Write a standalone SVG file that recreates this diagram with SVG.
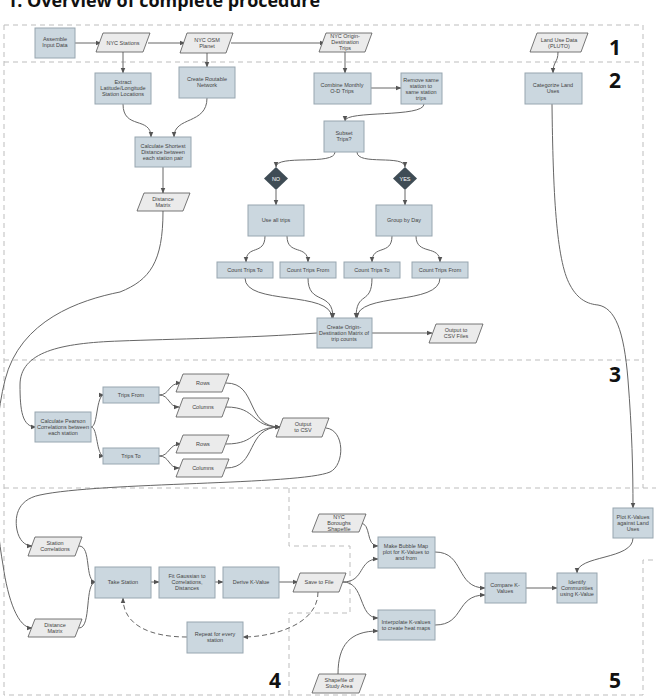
<svg xmlns="http://www.w3.org/2000/svg" width="656" height="698" viewBox="0 0 656 698">
<style>
.bx{fill:#cbd7df;stroke:#97a6b0;stroke-width:1}
.pg{fill:#ebebeb;stroke:#555;stroke-width:0.8}
.dm{fill:#3f4c55}
.t{font-family:"Liberation Sans",Arial,sans-serif;font-size:5.5px;fill:#444;text-anchor:middle}
.tw{font-family:"Liberation Sans",Arial,sans-serif;font-size:5.5px;fill:#fff;text-anchor:middle}
.sec{fill:none;stroke:#bdbdbd;stroke-width:1;stroke-dasharray:5 4}
.num{font-family:"Open Sans","DejaVu Sans",sans-serif;font-weight:bold;font-size:21px;fill:#111}
.c{fill:none;stroke:#666;stroke-width:1;marker-end:url(#ah)}
.cd{fill:none;stroke:#666;stroke-width:1;stroke-dasharray:5 3;marker-end:url(#ah)}
</style>
<defs>
<marker id="ah" viewBox="0 0 10 10" refX="9" refY="5" markerWidth="6" markerHeight="6" orient="auto" markerUnits="userSpaceOnUse"><path d="M0,1 L10,5 L0,9 z" fill="#555"/></marker>
</defs>
<rect width="656" height="698" fill="#fff"/>
<text x="7" y="7" font-family="'Open Sans','DejaVu Sans',sans-serif" font-weight="bold" font-size="18" fill="#111" textLength="313" lengthAdjust="spacingAndGlyphs">1. Overview of complete procedure</text>

<g id="sections">
<path class="sec" d="M4,25 H643 V488"/>
<path class="sec" d="M4,25 V695 H643 V560 H656"/>
<path class="sec" d="M4,62 H643"/>
<path class="sec" d="M4,360 H643"/>
<path class="sec" d="M4,488 H656"/>
<path class="sec" d="M289,488 V546 H350 V613 H289 V695"/>
<text class="num" x="609" y="55">1</text>
<text class="num" x="609" y="88">2</text>
<text class="num" x="609" y="382">3</text>
<text class="num" x="269" y="688">4</text>
<text class="num" x="609" y="688">5</text>
</g>

<g id="connectors">
<path class="c" d="M75,43 L101,43"/>
<path class="c" d="M148,43 L185,43"/>
<path class="c" d="M231,43 L325,43"/>
<path class="c" d="M123,52 L123,73"/>
<path class="c" d="M207,53 L207,67"/>
<path class="c" d="M345,52 L345,73"/>
<path class="c" d="M558,52 C558,63 553,61 553,73"/>
<path class="c" d="M123,104 C123,130 151,116 151,137"/>
<path class="c" d="M207,98 C207,125 174,116 174,137"/>
<path class="c" d="M163,167 L163,193"/>
<path class="c" d="M371,88 L401,88"/>
<path class="c" d="M424,104 C424,118 345,110 345,121"/>
<path class="c" d="M335,152 C335,166 276,154 276,167"/>
<path class="c" d="M357,152 C357,166 405,154 405,167"/>
<path class="c" d="M276,190 L276,205"/>
<path class="c" d="M405,190 L405,205"/>
<path class="c" d="M265,236 C265,256 246,244 246,262"/>
<path class="c" d="M287,236 C287,256 308,244 308,262"/>
<path class="c" d="M392,236 C392,256 372,244 372,262"/>
<path class="c" d="M416,236 C416,256 440,244 440,262"/>
<path class="c" d="M245,278 C245,306 332,290 332,318"/>
<path class="c" d="M308,278 C308,306 333,290 333,318"/>
<path class="c" d="M372,278 C372,306 356,290 356,318"/>
<path class="c" d="M440,278 C440,306 357,292 357,318"/>
<path class="c" d="M372,333 L432,333"/>
<path class="c" d="M317,333 C250,338 170,339 120,341 C60,343 20,352 20,385 C20,410 22,427 36,427"/>
<path class="c" d="M163,211 C163,262 150,280 120,292 C80,300 20,320 5,380 C-10,440 -5,520 3,565 C8,600 18,628 32,628"/>
<path class="c" d="M91,427 C98,427 96,395 104,395"/>
<path class="c" d="M91,427 C98,427 96,456 104,456"/>
<path class="c" d="M159,395 C170,395 168,383 181,383"/>
<path class="c" d="M159,395 C170,395 168,407 179,407"/>
<path class="c" d="M159,456 C170,456 168,444 181,444"/>
<path class="c" d="M159,456 C170,456 168,468 179,468"/>
<path class="c" d="M226,383 C258,383 245,427 280,427"/>
<path class="c" d="M226,407 C258,407 250,427 280,427"/>
<path class="c" d="M226,444 C258,444 250,427 280,427"/>
<path class="c" d="M226,468 C258,468 245,427 280,427"/>
<path class="c" d="M326,428 C345,430 345,465 330,472 C300,485 100,482 40,495 C15,500 15,520 17,530 C19,540 25,546 32,546"/>
<path class="c" d="M79,546 C92,546 84,582 96,582"/>
<path class="c" d="M79,628 C92,628 84,582 96,582"/>
<path class="c" d="M151,582 L159,582"/>
<path class="c" d="M215,582 L223,582"/>
<path class="c" d="M279,582 L298,582"/>
<path class="cd" d="M318,592 C318,625 272,637 243,637"/>
<path class="cd" d="M187,637 C150,637 123,625 123,598"/>
<path class="c" d="M360,523 C372,523 365,546 378,546"/>
<path class="c" d="M343,582 C365,582 358,559 378,559"/>
<path class="c" d="M343,582 C365,582 358,618 378,618"/>
<path class="c" d="M338,674 C338,645 350,631 378,631"/>
<path class="c" d="M435,552 C465,552 455,588 485,588"/>
<path class="c" d="M435,625 C465,625 455,595 485,595"/>
<path class="c" d="M526,588 L557,588"/>
<path class="c" d="M633,538 C633,560 577,555 577,573"/>
<path class="c" d="M552,104 C553,190 556,260 570,285 C578,300 588,304 598,305 C615,308 624,330 628,380 C632,430 633,470 633,508"/>
</g>

<g id="assemble"><rect class="bx" x="35" y="28" width="40" height="30"/><text class="t" x="55" y="41">Assemble</text><text class="t" x="55" y="47">Input Data</text></g>
<g id="nyc-stations"><polygon class="pg" points="103,33 150,33 143,52 96,52"/><text class="t" x="123" y="45">NYC Stations</text></g>
<g id="nyc-osm"><polygon class="pg" points="187,33 233,33 226,53 180,53"/><text class="t" x="207" y="42">NYC OSM</text><text class="t" x="207" y="48">Planet</text></g>
<g id="nyc-od"><polygon class="pg" points="326,33 372,33 365,52 319,52"/><text class="t" x="345" y="38">NYC Origin-</text><text class="t" x="345" y="44">Destination</text><text class="t" x="345" y="50">Trips</text></g>
<g id="land-use"><polygon class="pg" points="537,33 588,33 581,52 530,52"/><text class="t" x="559" y="42">Land Use Data</text><text class="t" x="559" y="48">(PLUTO)</text></g>

<g id="extract"><rect class="bx" x="95" y="73" width="56" height="31"/><text class="t" x="123" y="84">Extract</text><text class="t" x="123" y="90">Latitude/Longitude</text><text class="t" x="123" y="96">Station Locations</text></g>
<g id="routable"><rect class="bx" x="179" y="67" width="56" height="31"/><text class="t" x="207" y="81">Create Routable</text><text class="t" x="207" y="87">Network</text></g>
<g id="shortest"><rect class="bx" x="135" y="137" width="56" height="30"/><text class="t" x="163" y="148">Calculate Shortest</text><text class="t" x="163" y="154">Distance between</text><text class="t" x="163" y="160">each station pair</text></g>
<g id="dist-matrix"><polygon class="pg" points="144,193 190,193 183,211 137,211"/><text class="t" x="163" y="201">Distance</text><text class="t" x="163" y="207">Matrix</text></g>
<g id="combine"><rect class="bx" x="314" y="73" width="57" height="31"/><text class="t" x="342" y="87">Combine Monthly</text><text class="t" x="342" y="93">O-D Trips</text></g>
<g id="remove"><rect class="bx" x="401" y="73" width="41" height="31"/><text class="t" x="421" y="82">Remove same</text><text class="t" x="421" y="88">station to</text><text class="t" x="421" y="94">same station</text><text class="t" x="421" y="100">trips</text></g>
<g id="categorize"><rect class="bx" x="525" y="73" width="57" height="31"/><text class="t" x="553" y="87">Categorize Land</text><text class="t" x="553" y="93">Uses</text></g>
<g id="subset"><rect class="bx" x="324" y="121" width="40" height="31"/><text class="t" x="344" y="135">Subset</text><text class="t" x="344" y="141">Trips?</text></g>
<g id="no"><polygon class="dm" points="276,167 288,178.5 276,190 264,178.5"/><text class="tw" x="276" y="180.5">NO</text></g>
<g id="yes"><polygon class="dm" points="405,167 417,178.5 405,190 393,178.5"/><text class="tw" x="405" y="180.5">YES</text></g>
<g id="use-all"><rect class="bx" x="248" y="205" width="56" height="31"/><text class="t" x="276" y="222">Use all trips</text></g>
<g id="group-day"><rect class="bx" x="376" y="205" width="56" height="31"/><text class="t" x="404" y="222">Group by Day</text></g>
<g id="count-to-1"><rect class="bx" x="217" y="262" width="56" height="16"/><text class="t" x="245" y="272">Count Trips To</text></g>
<g id="count-from-1"><rect class="bx" x="280" y="262" width="56" height="16"/><text class="t" x="308" y="272">Count Trips From</text></g>
<g id="count-to-2"><rect class="bx" x="344" y="262" width="56" height="16"/><text class="t" x="372" y="272">Count Trips To</text></g>
<g id="count-from-2"><rect class="bx" x="412" y="262" width="56" height="16"/><text class="t" x="440" y="272">Count Trips From</text></g>
<g id="create-od"><rect class="bx" x="317" y="318" width="55" height="30"/><text class="t" x="344" y="329">Create Origin-</text><text class="t" x="344" y="335">Destination Matrix of</text><text class="t" x="344" y="341">trip counts</text></g>
<g id="out-csv-files"><polygon class="pg" points="436,324 483,324 476,343 429,343"/><text class="t" x="456" y="332">Output to</text><text class="t" x="456" y="338">CSV Files</text></g>

<g id="pairwise"><rect class="bx" x="35" y="412" width="56" height="30"/><text class="t" x="63" y="423">Calculate Pearson</text><text class="t" x="63" y="429">Correlations between</text><text class="t" x="63" y="435">each station</text></g>
<g id="trips-from"><rect class="bx" x="103" y="387" width="56" height="16"/><text class="t" x="131" y="397">Trips From</text></g>
<g id="trips-to"><rect class="bx" x="103" y="448" width="56" height="16"/><text class="t" x="131" y="458">Trips To</text></g>
<g id="rows-1"><polygon class="pg" points="183,374 229,374 222,392 176,392"/><text class="t" x="203" y="385">Rows</text></g>
<g id="cols-1"><polygon class="pg" points="183,398 229,398 222,417 176,417"/><text class="t" x="203" y="409">Columns</text></g>
<g id="rows-2"><polygon class="pg" points="183,435 229,435 222,453 176,453"/><text class="t" x="203" y="446">Rows</text></g>
<g id="cols-2"><polygon class="pg" points="183,459 229,459 222,477 176,477"/><text class="t" x="203" y="470">Columns</text></g>
<g id="out-csv"><polygon class="pg" points="283,418 329,418 322,437 276,437"/><text class="t" x="303" y="426">Output</text><text class="t" x="303" y="432">to CSV</text></g>

<g id="station-corr"><polygon class="pg" points="35,537 82,537 75,556 28,556"/><text class="t" x="55" y="545">Station</text><text class="t" x="55" y="551">Correlations</text></g>
<g id="dist-matrix-2"><polygon class="pg" points="35,619 82,619 75,637 28,637"/><text class="t" x="55" y="627">Distance</text><text class="t" x="55" y="633">Matrix</text></g>
<g id="take-station"><rect class="bx" x="95" y="567" width="56" height="31"/><text class="t" x="123" y="584">Take Station</text></g>
<g id="fit-gauss"><rect class="bx" x="159" y="567" width="56" height="31"/><text class="t" x="187" y="578">Fit Gaussian to</text><text class="t" x="187" y="584">Correlations,</text><text class="t" x="187" y="590">Distances</text></g>
<g id="derive-k"><rect class="bx" x="223" y="567" width="56" height="31"/><text class="t" x="251" y="584">Derive K-Value</text></g>
<g id="save-file"><polygon class="pg" points="300,573 346,573 339,592 293,592"/><text class="t" x="319" y="584">Save to File</text></g>
<g id="repeat"><rect class="bx" x="187" y="622" width="56" height="31"/><text class="t" x="215" y="636">Repeat for every</text><text class="t" x="215" y="642">station</text></g>

<g id="boroughs"><polygon class="pg" points="319,514 366,514 359,532 312,532"/><text class="t" x="339" y="519">NYC</text><text class="t" x="339" y="525">Boroughs</text><text class="t" x="339" y="531">Shapefile</text></g>
<g id="bubble"><rect class="bx" x="378" y="537" width="57" height="31"/><text class="t" x="406" y="548">Make Bubble Map</text><text class="t" x="406" y="554">plot for K-Values to</text><text class="t" x="406" y="560">and from</text></g>
<g id="interpolate"><rect class="bx" x="378" y="610" width="57" height="30"/><text class="t" x="406" y="624">Interpolate K-values</text><text class="t" x="406" y="630">to create heat maps</text></g>
<g id="shapefile"><polygon class="pg" points="319,674 366,674 359,693 312,693"/><text class="t" x="339" y="682">Shapefile of</text><text class="t" x="339" y="688">Study Area</text></g>
<g id="compare"><rect class="bx" x="485" y="573" width="41" height="30"/><text class="t" x="505" y="587">Compare K-</text><text class="t" x="505" y="593">Values</text></g>
<g id="identify"><rect class="bx" x="557" y="573" width="40" height="30"/><text class="t" x="577" y="584">Identify</text><text class="t" x="577" y="590">Communities</text><text class="t" x="577" y="596">using K-Value</text></g>
<g id="plot-k"><rect class="bx" x="613" y="508" width="40" height="30"/><text class="t" x="633" y="519">Plot K-Values</text><text class="t" x="633" y="525">against Land</text><text class="t" x="633" y="531">Uses</text></g>
</svg>
